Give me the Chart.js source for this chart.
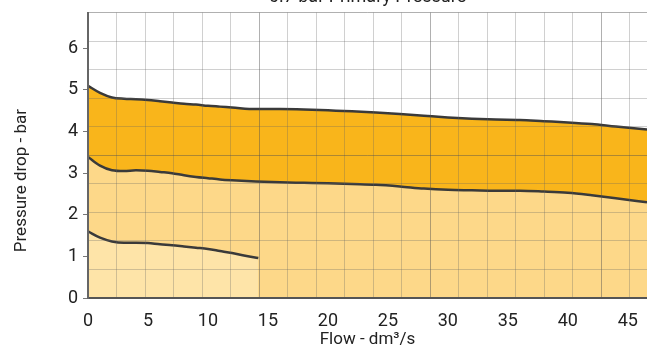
<!DOCTYPE html>
<html>
<head>
<meta charset="utf-8">
<script src="https://cdn.jsdelivr.net/npm/chart.js@4"></script>
<style>
html, body { margin: 0; padding: 0; background: #fff; overflow: hidden; }
#wrap { position: absolute; left: 0; top: -20px; width: 647px; height: 370px; }
</style>
</head>
<body>
<div id="wrap"><canvas id="pressureChart"></canvas></div>
<script>
// flow in dm3/s, pressure drop in bar
const flow = [0, 1, 2, 3, 4, 5, 6, 7, 8, 9, 10, 11, 12, 14, 16, 18, 20, 22, 24, 26, 28, 30, 32, 34, 36, 38, 40, 42, 44, 46.6];
const upperDrop = [5.10, 4.93, 4.82, 4.79, 4.78, 4.76, 4.73, 4.70, 4.67, 4.65, 4.62, 4.60, 4.58, 4.54, 4.54, 4.53, 4.51, 4.49, 4.46, 4.42, 4.38, 4.34, 4.31, 4.29, 4.28, 4.25, 4.22, 4.18, 4.12, 4.05];
const middleDrop = [3.39, 3.18, 3.07, 3.05, 3.07, 3.06, 3.03, 3.00, 2.95, 2.91, 2.88, 2.85, 2.83, 2.80, 2.78, 2.77, 2.76, 2.74, 2.72, 2.68, 2.63, 2.60, 2.59, 2.58, 2.58, 2.56, 2.53, 2.47, 2.40, 2.30];
const flowLow = [0, 1, 2, 3, 4, 5, 6, 7, 8, 9, 10, 11, 12, 13, 14.2];
const lowerDrop = [1.60, 1.45, 1.36, 1.33, 1.33, 1.32, 1.29, 1.27, 1.24, 1.21, 1.18, 1.13, 1.08, 1.02, 0.96];

const xMax = 46.6;
const yMax = 6.86;

const pts = (xs, ys) => xs.map((x, i) => ({ x: x, y: ys[i] }));
const font = "Roboto";
const lineColor = "#3a3a3a";
const minorGrid = "rgba(100,100,100,0.3)";
const majorGrid = "rgba(80,80,80,0.45)";

const curve = {
    borderColor: lineColor,
    borderWidth: 2.5,
    pointRadius: 0,
    tension: 0.4,
    cubicInterpolationMode: "monotone"
};

var config = {
    type: "line",
    data: {
        datasets: [
            Object.assign({ label: "low", data: pts(flowLow, lowerDrop), fill: "origin", backgroundColor: "rgb(254,228,168)" }, curve),
            Object.assign({ label: "mid", data: pts(flow, middleDrop), fill: "origin", backgroundColor: "rgb(253,216,137)" }, curve),
            Object.assign({ label: "high", data: pts(flow, upperDrop), fill: "-1", backgroundColor: "rgb(249,181,27)" }, curve)
        ]
    },
    options: {
        responsive: true,
        maintainAspectRatio: false,
        animation: false,
        layout: { padding: 0 },
        plugins: {
            legend: { display: false },
            tooltip: { enabled: false },
            title: {
                display: true,
                fullSize: false,
                text: "6.7 bar Primary Pressure",
                color: "#222",
                font: { family: font, size: 18, weight: "normal" },
                padding: { top: 7, bottom: 4 }
            }
        },
        scales: {
            x: {
                type: "linear",
                min: 0,
                max: xMax,
                z: 1,
                afterFit: s => { s.height = 52; },
                border: { display: true, color: "#555", width: 2, z: 2 },
                grid: { display: false },
                ticks: { stepSize: 5, includeBounds: false, padding: 5, color: "#222", font: { family: font, size: 18 }, maxRotation: 0 },
                title: { display: true, text: "Flow - dm³/s", color: "#222", font: { family: font, size: 17 }, padding: { top: 0, bottom: 0 } }
            },
            y: {
                type: "linear",
                min: 0,
                max: yMax,
                z: 1,
                afterFit: s => { s.width = 88; },
                border: { display: true, color: "#666", width: 2, z: 2 },
                grid: { drawOnChartArea: false, drawTicks: true, tickLength: 5, color: "#777" },
                ticks: { stepSize: 1, includeBounds: false, padding: 5, color: "#222", font: { family: font, size: 18 } },
                title: { display: true, text: "Pressure drop - bar\u00a0\u00a0\u00a0\u00a0\u00a0\u00a0\u00a0\u00a0\u00a0\u00a0\u00a0\u00a0", color: "#222", font: { family: font, size: 17 }, padding: { top: 12, bottom: 0 } }
            },
            xGrid: {
                type: "linear",
                axis: "x",
                position: "bottom",
                min: 0,
                max: 19.6,
                afterFit: s => { s.height = 0; },
                border: { display: false },
                ticks: { display: false, stepSize: 1, includeBounds: false },
                grid: {
                    z: 1,
                    drawTicks: false,
                    lineWidth: 1,
                    color: c => c.index % 6 === 0 ? majorGrid : minorGrid
                }
            },
            yGrid: {
                type: "linear",
                axis: "y",
                position: "left",
                min: 0,
                max: 10,
                afterFit: s => { s.width = 0; },
                border: { display: false },
                ticks: { display: false, stepSize: 1, includeBounds: false },
                grid: {
                    z: 1,
                    drawTicks: false,
                    lineWidth: 1,
                    color: c => c.index % 5 === 0 ? majorGrid : minorGrid
                }
            }
        }
    }
};

var pressureChart = new Chart(document.getElementById("pressureChart"), config);
</script>
</body>
</html>
